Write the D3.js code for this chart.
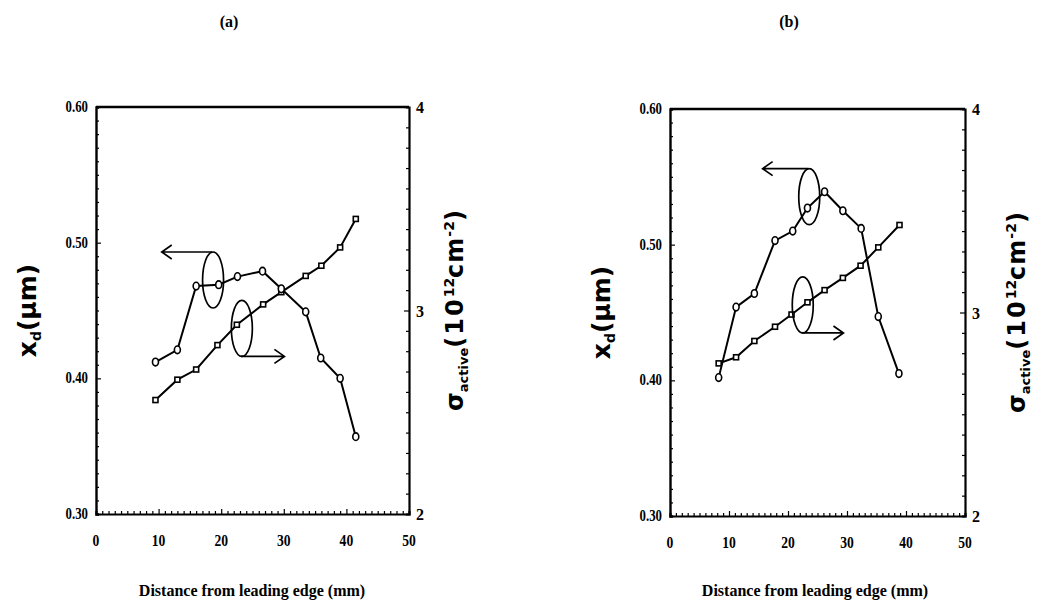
<!DOCTYPE html>
<html><head><meta charset="utf-8">
<script src="https://d3js.org/d3.v7.min.js"></script>
<style>body{margin:0;background:#fff}svg{display:block}</style>
</head><body>
<script>
// ---------- data ----------
const xTickValues = [0, 10, 20, 30, 40, 50];
const leftTickValues = [0.30, 0.40, 0.50, 0.60];
const rightTickValues = [2, 3, 4];

// panel (a)
const aCircleX = [9.5, 13.0, 16.0, 19.6, 22.6, 26.6, 29.6, 33.5, 35.9, 39.0, 41.5];
const aCircleY = [0.412, 0.421, 0.468, 0.469, 0.475, 0.479, 0.466, 0.449, 0.415, 0.400, 0.357];
const aSquareX = [9.5, 13.0, 16.0, 19.4, 22.5, 26.7, 29.6, 33.5, 36.0, 39.0, 41.5];
const aSquareY = [2.56, 2.66, 2.71, 2.83, 2.93, 3.03, 3.09, 3.17, 3.22, 3.31, 3.45];

// panel (b)
const bCircleX = [8.25, 11.2, 14.3, 17.8, 20.8, 23.3, 26.2, 29.3, 32.4, 35.3, 38.8];
const bCircleY = [0.402, 0.454, 0.464, 0.503, 0.510, 0.527, 0.539, 0.525, 0.512, 0.447, 0.405];
const bSquareX = [8.25, 11.2, 14.3, 17.8, 20.6, 23.3, 26.2, 29.3, 32.3, 35.3, 38.9];
const bSquareY = [2.75, 2.78, 2.86, 2.93, 2.99, 3.05, 3.11, 3.17, 3.23, 3.32, 3.43];

// annotation ellipses (data units)
const aAnnot = [
  {cx: 18.7, cy: 0.4725, axis: "left", toX: 10.5},
  {cx: 23.3, cy: 2.912, axis: "right", toX: 30.1}
];
const bAnnot = [
  {cx: 23.6, cy: 0.5354, axis: "left", toX: 15.7},
  {cx: 22.5, cy: 3.037, axis: "right", toX: 29.4}
];

const titles = ["(a)", "(b)"];
const xLabel = "Distance from leading edge (mm)";

// ---------- drawing ----------
const W = 1038, H = 615;
const svg = d3.select("body").append("svg").attr("width", W).attr("height", H);

const panels = [
  {title: titles[0], L: 96, R: 409, T: 107, B: 514,
   cx: aCircleX, cy: aCircleY, sx: aSquareX, sy: aSquareY, annot: aAnnot,
   titleX: 229, xLabX: 252, ylX: 27, yrX: 455},
  {title: titles[1], L: 670, R: 965, T: 109, B: 516,
   cx: bCircleX, cy: bCircleY, sx: bSquareX, sy: bSquareY, annot: bAnnot,
   titleX: 789, xLabX: 815, ylX: 601, yrX: 1017}
];

const tickFont = "'Liberation Serif', 'Times New Roman', serif";
const sansFont = "'DejaVu Sans', 'Liberation Sans', sans-serif";

panels.forEach(p => {
  const g = svg.append("g");
  const x = d3.scaleLinear().domain([0, 50]).range([p.L, p.R]);
  const yL = d3.scaleLinear().domain([0.30, 0.60]).range([p.B, p.T]);
  const yR = d3.scaleLinear().domain([2, 4]).range([p.B, p.T]);

  // top frame line
  g.append("line").attr("x1", p.L).attr("x2", p.R).attr("y1", p.T).attr("y2", p.T)
    .attr("stroke", "#000").attr("stroke-width", 2.4);

  // bottom axis: minor ticks every 1 inward
  const bottom = g.append("g").attr("transform", `translate(0,${p.B})`)
    .call(d3.axisTop(x).tickValues(d3.range(0, 51, 1)).tickSizeOuter(0).tickSize(3).tickFormat(""));
  bottom.select(".domain").attr("stroke-width", 2.2);
  bottom.selectAll(".tick line").attr("stroke-width", 1.2)
    .attr("y2", d => d % 10 === 0 ? -5 : -3);
  g.selectAll(".xlab").data(xTickValues).enter().append("text")
    .attr("x", d => x(d)).attr("y", p.B + 32)
    .attr("text-anchor", "middle").attr("font-family", tickFont)
    .attr("font-weight", "bold").attr("font-size", 16)
    .attr("transform", d => `translate(${x(d)},0) scale(0.85,1) translate(${-x(d)},0)`)
    .text(d => d);

  // left axis: ticks every 0.01 inward
  const left = g.append("g").attr("transform", `translate(${p.L},0)`)
    .call(d3.axisRight(yL).tickValues(d3.range(0, 31).map(i => 0.30 + i * 0.01)).tickSizeOuter(0).tickSize(3).tickFormat(""));
  left.select(".domain").attr("stroke-width", 2.4);
  left.selectAll(".tick line").attr("stroke-width", 1.2)
    .attr("x2", (d, i) => i % 10 === 0 ? 5 : 3);
  g.selectAll(".ylab").data(leftTickValues).enter().append("text")
    .attr("x", p.L - 8).attr("y", d => yL(d) + 5)
    .attr("text-anchor", "end").attr("font-family", tickFont)
    .attr("font-weight", "bold").attr("font-size", 16)
    .attr("transform", `translate(${p.L - 8},0) scale(0.8,1) translate(${-(p.L - 8)},0)`)
    .text(d => d.toFixed(2));

  // right axis: ticks every 0.1 inward
  const right = g.append("g").attr("transform", `translate(${p.R},0)`)
    .call(d3.axisLeft(yR).tickValues(d3.range(0, 21).map(i => 2 + i * 0.1)).tickSizeOuter(0).tickSize(3).tickFormat(""));
  right.select(".domain").attr("stroke-width", 2.2);
  right.selectAll(".tick line").attr("stroke-width", 1.2)
    .attr("x2", (d, i) => i % 10 === 0 ? -5 : -3);
  g.selectAll(".rlab").data(rightTickValues).enter().append("text")
    .attr("x", p.R + 7).attr("y", d => yR(d) + 6)
    .attr("text-anchor", "start").attr("font-family", tickFont)
    .attr("font-weight", "bold").attr("font-size", 16)
    .text(d => d);

  // title
  g.append("text").attr("x", p.titleX).attr("y", 27).attr("text-anchor", "middle")
    .attr("font-family", tickFont).attr("font-weight", "bold").attr("font-size", 16)
    .text(p.title);

  // x label
  g.append("text").attr("x", p.xLabX).attr("y", 596).attr("text-anchor", "middle")
    .attr("font-family", tickFont).attr("font-weight", "bold").attr("font-size", 16)
    .text(xLabel);

  // left y label
  const ly = (p.T + p.B) / 2;
  const lt = g.append("text").attr("transform", `translate(${p.ylX + 9},${ly}) rotate(-90)`)
    .attr("text-anchor", "middle").attr("font-family", sansFont)
    .attr("font-weight", "bold").attr("font-size", 25);
  lt.append("tspan").text("x");
  lt.append("tspan").attr("font-size", 14).attr("dy", 5).text("d");
  lt.append("tspan").attr("dy", -5).text("(\u00b5m)");

  // right y label
  const ry = (p.T + p.B) / 2;
  const rt = g.append("text").attr("transform", `translate(${p.yrX + 8},${ry}) rotate(-90)`)
    .attr("text-anchor", "middle").attr("font-family", sansFont)
    .attr("font-weight", "bold").attr("font-size", 24);
  rt.append("tspan").text("\u03c3");
  rt.append("tspan").attr("font-size", 13).attr("dy", 5).text("active");
  rt.append("tspan").attr("dy", -5).attr("letter-spacing", 2).text("(10");
  rt.append("tspan").attr("font-size", 14).attr("dy", -9).text("12");
  rt.append("tspan").attr("dy", 9).attr("letter-spacing", 1).text("cm");
  rt.append("tspan").attr("font-size", 14).attr("dy", -9).text("-2");
  rt.append("tspan").attr("dy", 9).text(")");

  // lines
  const circ = p.cx.map((v, i) => [v, p.cy[i]]);
  const sq = p.sx.map((v, i) => [v, p.sy[i]]);
  const lineL = d3.line().x(d => x(d[0])).y(d => yL(d[1]));
  const lineR = d3.line().x(d => x(d[0])).y(d => yR(d[1]));
  g.append("path").attr("d", lineR(sq)).attr("fill", "none").attr("stroke", "#000").attr("stroke-width", 2);
  g.append("path").attr("d", lineL(circ)).attr("fill", "none").attr("stroke", "#000").attr("stroke-width", 2);

  g.selectAll(".sq").data(sq).enter().append("rect")
    .attr("x", d => x(d[0]) - 2.5).attr("y", d => yR(d[1]) - 2.5)
    .attr("width", 5).attr("height", 5)
    .attr("fill", "#fff").attr("stroke", "#000").attr("stroke-width", 1.6);
  g.selectAll(".ci").data(circ).enter().append("ellipse")
    .attr("cx", d => x(d[0])).attr("cy", d => yL(d[1]))
    .attr("rx", 3).attr("ry", 3.8)
    .attr("fill", "#fff").attr("stroke", "#000").attr("stroke-width", 1.6);

  // annotations
  p.annot.forEach(a => {
    const ys = a.axis === "left" ? yL : yR;
    const cxp = x(a.cx), cyp = ys(a.cy);
    const erx = 10.5, ery = 28;
    g.append("ellipse").attr("cx", cxp).attr("cy", cyp).attr("rx", erx).attr("ry", ery)
      .attr("fill", "none").attr("stroke", "#000").attr("stroke-width", 1.7);
    const ay = a.axis === "left" ? cyp - ery : cyp + ery;
    const x0 = cxp - 1, x1 = x(a.toX);
    const dir = x1 < x0 ? 1 : -1;
    g.append("path")
      .attr("d", `M${x0},${ay}L${x1},${ay}M${x1 + dir * 10},${ay - 7}L${x1},${ay}L${x1 + dir * 10},${ay + 7}`)
      .attr("fill", "none").attr("stroke", "#000").attr("stroke-width", 1.7);
  });
});
</script>
</body></html>
